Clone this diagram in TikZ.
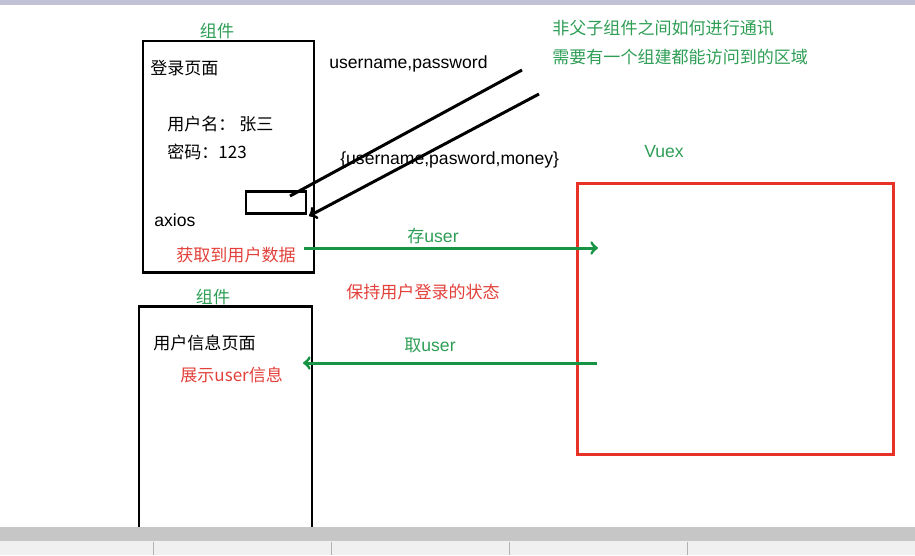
\documentclass[tikz,border=0pt]{standalone}
\usepackage{fontspec}
\setmainfont{Liberation Sans}
\newfontfamily\cjk{Noto Sans CJK SC}[Scale=0.97]
\usetikzlibrary{fit}

\definecolor{notegreen}{HTML}{2E9E55}
\definecolor{arrowgreen}{HTML}{179443}
\definecolor{notered}{HTML}{E2403A}
\definecolor{boxred}{HTML}{E83228}

\tikzset{
    pagebox/.style={draw=black, line width=1.7pt, inner sep=0pt},
    storebox/.style={draw=boxred, line width=1.7pt, inner sep=0pt},
    txt/.style={font=\fontsize{10}{12}\selectfont, inner sep=0pt, anchor=west},
    greentxt/.style={txt, text=notegreen},
    redtxt/.style={txt, text=notered},
    pen/.style={line width=1.7pt},
    greenpen/.style={draw=arrowgreen, line width=1.7pt}
}

\begin{document}
\begin{tikzpicture}[x=0.02cm, y=-0.02cm]

    \useasboundingbox (0,0) rectangle (915,555);

    % --- Window bars ---
    \fill[blue!20!gray!40] (0,0) rectangle (915,5);
    \fill[gray!45] (0,527) rectangle (915,541);
    \fill[gray!12] (0,541) rectangle (915,555);
    \foreach \x in {153,331,509,687} {
        \draw[gray!60] (\x,542) -- (\x,555);
    }

    % --- Login page component ---
    \node[pagebox, fit={(143,41) (314,272)}] (login) {};
    \node[greentxt, anchor=center] (logintag) at (217,31) {\cjk 组件};
    \node[txt] (logintitle) at (150,68) {\cjk 登录页面};
    \node[txt] (uname) at (167,124) {\cjk 用户名： 张三};
    \node[txt] (pwd) at (167,152) {\cjk 密码：123};
    \node[pen, draw, inner sep=0pt, fit={(246,191) (306,213)}] (submit) {};
    \node[txt] (axios) at (154,220) {axios};
    \node[redtxt] (getdata) at (176,255) {\cjk 获取到用户数据};

    % --- User info page component ---
    \draw[pen] (139,527) |- (312,306) -- (312,527);
    \node[greentxt, anchor=center] (infotag) at (213,297) {\cjk 组件};
    \node[txt] (infotitle) at (153,343) {\cjk 用户信息页面};
    \node[redtxt] (showinfo) at (180,375) {\cjk 展示user信息};

    % --- Vuex store ---
    \node[storebox, fit={(577,183) (893,454)}] (vuex) {};
    \node[greentxt, anchor=center] (vuextag) at (664,152) {Vuex};

    % --- Request / response ---
    \node[txt] (request) at (329,64) {username,password};
    \node[txt] (response) at (340,160) {\{username,pasword,money\}};
    \coordinate (reqstart) at (522,70);
    \coordinate (reqend) at (290,196);
    \coordinate (resstart) at (539,94);
    \coordinate (resend) at (309,216);
    \draw[pen] (reqstart) -- (reqend);
    \draw[pen, ->] (resstart) -- (resend);

    % --- Store and read user ---
    \coordinate (storestart) at (304,248);
    \coordinate (storeend) at (598,248);
    \coordinate (readstart) at (597,363);
    \coordinate (readend) at (303,363);
    \draw[greenpen, ->] (storestart) -- (storeend);
    \node[greentxt, anchor=center] (storelbl) at (433,236) {\cjk 存{\rmfamily user}};
    \draw[greenpen, ->] (readstart) -- (readend);
    \node[greentxt, anchor=center] (readlbl) at (430,345) {\cjk 取{\rmfamily user}};
    \node[redtxt] (keeplogin) at (346,292) {\cjk 保持用户登录的状态};

    % --- Notes ---
    \node[greentxt] (note1) at (552,28) {\cjk 非父子组件之间如何进行通讯};
    \node[greentxt] (note2) at (552,57) {\cjk 需要有一个组建都能访问到的区域};

\end{tikzpicture}
\end{document}
